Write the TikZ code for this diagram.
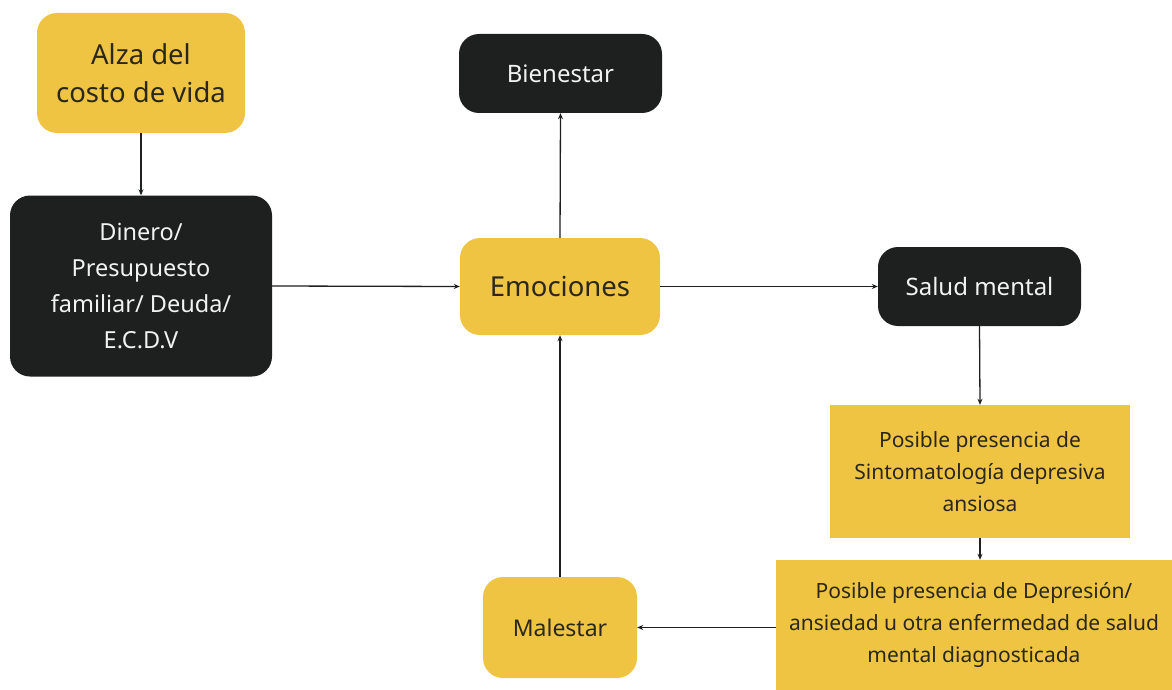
\documentclass[tikz,border=0pt]{standalone}
\usepackage{fontspec}
\setmainfont{Noto Sans}
\usetikzlibrary{arrows.meta}
\definecolor{ylw}{HTML}{F0C443}
\definecolor{drk}{HTML}{1E1F1F}
\definecolor{ink}{HTML}{2A271C}
\definecolor{wht}{HTML}{F2F2F2}
\tikzset{
  ybox/.style={fill=ylw,text=ink,align=center,inner sep=0pt,rounded corners=20pt},
  dbox/.style={fill=drk,text=wht,align=center,inner sep=0pt,rounded corners=20pt},
  sbox/.style={fill=ylw,text=ink,align=center,inner sep=0pt},
  conn/.style={draw=drk,line width=1.3pt,-{Stealth[length=6pt,width=5pt]}}
}
\newcommand{\fs}[2]{\fontsize{#1}{#2}\selectfont}
\begin{document}
\begin{tikzpicture}[x=1pt,y=-1pt]
\useasboundingbox (0,0) rectangle (1172,690);
\node[ybox,minimum width=208pt,minimum height=120pt,font=\fs{27.5}{38}] (alza) at (141,73)
  {Alza del\\costo de vida};
\node[dbox,minimum width=262pt,minimum height=181pt,font=\fs{23.5}{36}] (din) at (141,286)
  {Dinero/\\Presupuesto\\familiar/ Deuda/\\E.C.D.V};
\node[dbox,minimum width=203pt,minimum height=79pt,font=\fs{24}{28}] (bien) at (560.5,73.5)
  {Bienestar};
\node[ybox,minimum width=200pt,minimum height=97pt,font=\fs{27.5}{32}] (emo) at (560,286.5)
  {Emociones};
\node[dbox,minimum width=203pt,minimum height=79pt,font=\fs{24}{28}] (salud) at (979.5,286.5)
  {Salud mental};
\node[sbox,minimum width=300pt,minimum height=133pt,font=\fs{21}{32}] (sint) at (980,471.5)
  {Posible presencia de\\Sintomatología depresiva\\ansiosa};
\node[sbox,minimum width=396pt,minimum height=130pt,font=\fs{21}{32}] (dep) at (974,625)
  {Posible presencia de Depresión/\\ansiedad u otra enfermedad de salud\\mental diagnosticada};
\node[ybox,minimum width=154pt,minimum height=101pt,font=\fs{23}{28}] (mal) at (560,627.5)
  {Malestar};
\draw[conn] (alza.south) -- (din.north);
\draw[conn] (din.east) -- (emo.west);
\draw[conn] (emo.north) -- (bien.south);
\draw[conn] (emo.east) -- (salud.west);
\draw[conn] (salud.south) -- (sint.north);
\draw[conn] (sint.south) -- (sint.south |- dep.north);
\draw[conn] (dep.west |- mal.east) -- (mal.east);
\draw[conn] (mal.north) -- (emo.south);
\end{tikzpicture}
\end{document}
